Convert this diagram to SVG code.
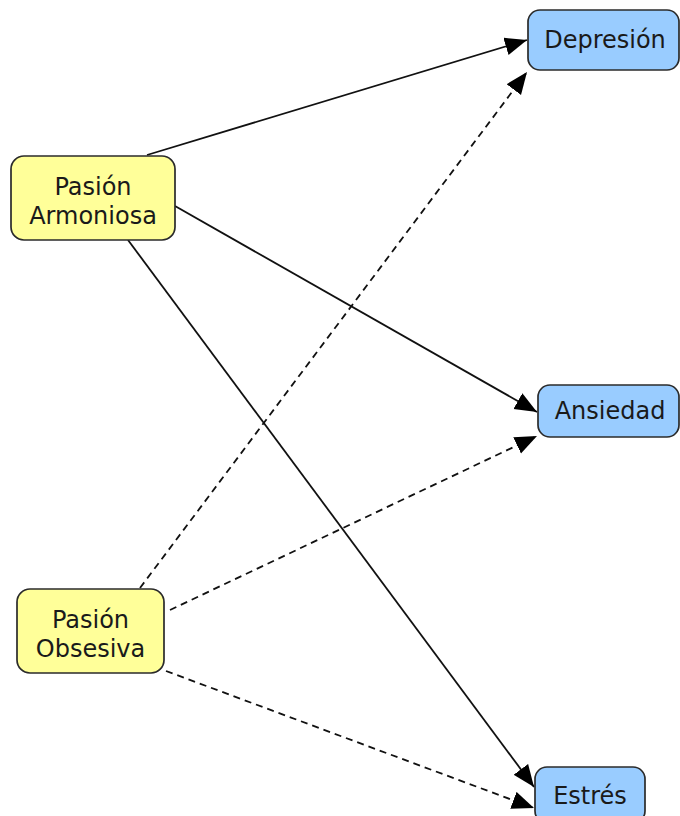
<svg xmlns="http://www.w3.org/2000/svg" width="680" height="816" viewBox="0 0 680 816">
<style>
.node rect{stroke:#2b2b2b;stroke-width:1.7}
.src rect{fill:#ffff99}
.dst rect{fill:#99ccff}
text{font-family:"DejaVu Sans",Verdana,sans-serif;font-size:24px;fill:#1a1a1a;text-anchor:middle}
.edge{stroke:#111;stroke-width:1.8;fill:none;marker-end:url(#arr)}
.dash{stroke-dasharray:7 5}
</style>
<defs>
<marker id="arr" markerUnits="userSpaceOnUse" markerWidth="24" markerHeight="20" refX="22" refY="9" orient="auto">
<path d="M0,0 L22,9 L0,18 Z" fill="#000"/>
</marker>
</defs>
<g id="connectors">
<line class="edge" x1="147" y1="155" x2="527" y2="40"/>
<line class="edge" x1="175" y1="206" x2="537" y2="412"/>
<line class="edge" x1="128" y1="240" x2="534" y2="787"/>
<line class="edge dash" x1="140" y1="588" x2="527" y2="72"/>
<line class="edge dash" x1="170" y1="610" x2="537" y2="436"/>
<line class="edge dash" x1="166" y1="671" x2="534" y2="808"/>
</g>
<g id="pasion-armoniosa" class="node src">
<rect x="11" y="156" width="164" height="84" rx="13"/>
<text x="93" y="195">Pasión</text>
<text x="93" y="224">Armoniosa</text>
</g>
<g id="pasion-obsesiva" class="node src">
<rect x="17" y="589" width="147" height="84" rx="13"/>
<text x="90.5" y="628">Pasión</text>
<text x="90.5" y="657">Obsesiva</text>
</g>
<g id="depresion" class="node dst">
<rect x="528" y="10" width="151" height="60" rx="12"/>
<text x="605" y="48">Depresión</text>
</g>
<g id="ansiedad" class="node dst">
<rect x="538" y="385" width="141" height="52" rx="12"/>
<text x="610" y="419">Ansiedad</text>
</g>
<g id="estres" class="node dst">
<rect x="535" y="767" width="110" height="56" rx="12"/>
<text x="590" y="804">Estrés</text>
</g>
</svg>
